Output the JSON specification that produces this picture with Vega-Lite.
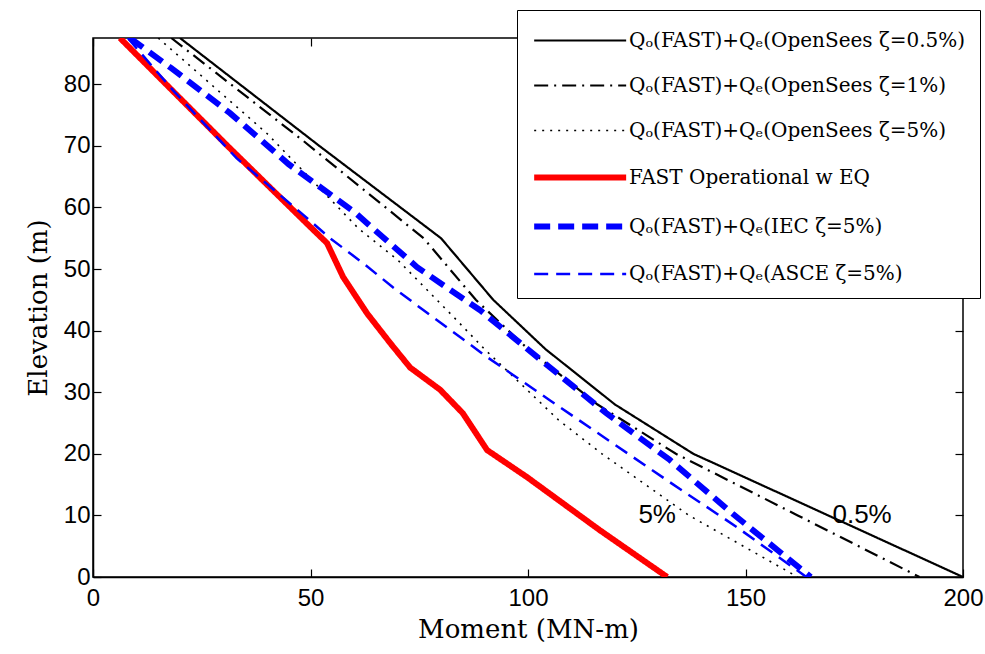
{
  "$schema": "https://vega.github.io/schema/vega-lite/v6.json",
  "width": 870,
  "height": 539,
  "autosize": "none",
  "padding": {"left": 93, "top": 38, "right": 22, "bottom": 77},
  "background": "white",
  "config": {
    "view": {"stroke": "black", "strokeWidth": 1.5},
    "font": "Liberation Serif",
    "axis": {
      "labelFont": "Liberation Sans", "titleFont": "DejaVu Serif",
      "labelFontSize": 24, "titleFontSize": 26, "titleFontWeight": "normal",
      "labelColor": "black", "titleColor": "black", "labelFlush": false,
      "domainColor": "black", "tickColor": "black", "grid": false,
      "tickSize": -8, "tickWidth": 1.2, "domainWidth": 1.5
    }
  },
  "resolve": {"axis": {"x": "independent", "y": "independent"}},
  "layer": [
    {
      "data": {"values": [
        {"series": "s05", "x": 20, "y": 87.5}, {"series": "s05", "x": 52, "y": 70}, {"series": "s05", "x": 80, "y": 55}, {"series": "s05", "x": 92, "y": 45}, {"series": "s05", "x": 104, "y": 37}, {"series": "s05", "x": 120, "y": 28}, {"series": "s05", "x": 138, "y": 20}, {"series": "s05", "x": 169, "y": 10}, {"series": "s05", "x": 200, "y": 0},
        {"series": "s1", "x": 18, "y": 87.5}, {"series": "s1", "x": 48, "y": 71}, {"series": "s1", "x": 76, "y": 55}, {"series": "s1", "x": 88, "y": 45}, {"series": "s1", "x": 100, "y": 37}, {"series": "s1", "x": 116, "y": 28}, {"series": "s1", "x": 134, "y": 20}, {"series": "s1", "x": 162, "y": 10}, {"series": "s1", "x": 190, "y": 0},
        {"series": "s5", "x": 15, "y": 87.5}, {"series": "s5", "x": 40, "y": 72}, {"series": "s5", "x": 61, "y": 56.6}, {"series": "s5", "x": 70, "y": 51.5}, {"series": "s5", "x": 82.5, "y": 42.5}, {"series": "s5", "x": 90, "y": 37}, {"series": "s5", "x": 107, "y": 25.5}, {"series": "s5", "x": 117, "y": 20}, {"series": "s5", "x": 137, "y": 10}, {"series": "s5", "x": 162, "y": 0},
        {"series": "fast", "x": 6.2, "y": 87.5}, {"series": "fast", "x": 30.9, "y": 70}, {"series": "fast", "x": 50, "y": 56.8}, {"series": "fast", "x": 53.8, "y": 54.2}, {"series": "fast", "x": 57.5, "y": 48.7}, {"series": "fast", "x": 63, "y": 42.8}, {"series": "fast", "x": 68.3, "y": 38}, {"series": "fast", "x": 72.9, "y": 34}, {"series": "fast", "x": 79.8, "y": 30.4}, {"series": "fast", "x": 85, "y": 26.6}, {"series": "fast", "x": 90.6, "y": 20.6}, {"series": "fast", "x": 99.8, "y": 16.2}, {"series": "fast", "x": 116.5, "y": 7.6}, {"series": "fast", "x": 132, "y": 0},
        {"series": "iec", "x": 8.5, "y": 87.5}, {"series": "iec", "x": 18, "y": 82.6}, {"series": "iec", "x": 31.5, "y": 75.3}, {"series": "iec", "x": 45, "y": 67}, {"series": "iec", "x": 60, "y": 59.3}, {"series": "iec", "x": 74.5, "y": 50.3}, {"series": "iec", "x": 89, "y": 43.3}, {"series": "iec", "x": 103, "y": 35.2}, {"series": "iec", "x": 118, "y": 26.6}, {"series": "iec", "x": 132.6, "y": 19}, {"series": "iec", "x": 147, "y": 10.3}, {"series": "iec", "x": 165, "y": 0},
        {"series": "asce", "x": 8, "y": 87.5}, {"series": "asce", "x": 18.4, "y": 79}, {"series": "asce", "x": 33, "y": 68}, {"series": "asce", "x": 47, "y": 59.6}, {"series": "asce", "x": 54.5, "y": 55}, {"series": "asce", "x": 62, "y": 51}, {"series": "asce", "x": 69, "y": 47}, {"series": "asce", "x": 76, "y": 43.3}, {"series": "asce", "x": 90.6, "y": 35.7}, {"series": "asce", "x": 105, "y": 28.7}, {"series": "asce", "x": 119.5, "y": 21.7}, {"series": "asce", "x": 133, "y": 15.2}, {"series": "asce", "x": 148, "y": 8.1}, {"series": "asce", "x": 164, "y": 0}
      ]},
      "mark": {"type": "line", "strokeCap": "butt", "clip": true},
      "encoding": {
        "x": {"field": "x", "type": "quantitative", "scale": {"domain": [0, 200], "nice": false}, "axis": {"values": [0, 50, 100, 150, 200], "title": "Moment (MN-m)", "labelPadding": 17, "titlePadding": 6}},
        "y": {"field": "y", "type": "quantitative", "scale": {"domain": [0, 87.5], "nice": false}, "axis": {"values": [0, 10, 20, 30, 40, 50, 60, 70, 80], "title": "Elevation (m)", "labelPadding": 11, "titlePadding": 12}},
        "order": {"field": "y", "sort": "descending"},
        "color": {"field": "series", "type": "nominal",
          "scale": {"domain": ["s05", "s1", "s5", "fast", "iec", "asce"], "range": ["black", "black", "black", "#ff0000", "#0000ff", "#0000ff"]},
          "legend": {
            "orient": "none", "legendX": 424, "legendY": -28, "title": null,
            "strokeColor": "black", "fillColor": "white", "padding": 14,
            "symbolType": "M-1,0H5", "symbolSize": 940,
            "labelFont": "DejaVu Serif", "labelFontSize": 20, "labelColor": "black", "labelLimit": 500,
            "labelOffset": 61, "rowPadding": 18,
            "labelExpr": "{'s05': 'Qₒ(FAST)+Qₑ(OpenSees ζ=0.5%)', 's1': 'Qₒ(FAST)+Qₑ(OpenSees ζ=1%)', 's5': 'Qₒ(FAST)+Qₑ(OpenSees ζ=5%)', 'fast': 'FAST Operational w EQ', 'iec': 'Qₒ(FAST)+Qₑ(IEC ζ=5%)', 'asce': 'Qₒ(FAST)+Qₑ(ASCE ζ=5%)'}[datum.value]"
          }
        },
        "strokeDash": {"field": "series", "type": "nominal",
          "scale": {"domain": ["s05", "s1", "s5", "fast", "iec", "asce"], "range": [[1, 0], [14, 6, 2, 6], [2, 6], [1, 0], [16, 8], [14, 8]]}
        },
        "strokeWidth": {"field": "series", "type": "nominal",
          "scale": {"type": "ordinal", "domain": ["s05", "s1", "s5", "fast", "iec", "asce"], "range": [2.2, 2.2, 1.6, 6, 6, 2.5]}
        }
      }
    },
    {
      "data": {"values": [
        {"label": "5%", "x": 129.7, "y": 10},
        {"label": "0.5%", "x": 176.8, "y": 10}
      ]},
      "mark": {"type": "text", "font": "Liberation Sans", "fontSize": 26, "color": "black"},
      "encoding": {
        "x": {"field": "x", "type": "quantitative", "axis": null},
        "y": {"field": "y", "type": "quantitative", "axis": null},
        "text": {"field": "label"}
      }
    },
    {
      "data": {"values": [
        {"label": "5%", "x": 129.7, "y": 10},
        {"label": "0.5%", "x": 176.8, "y": 10}
      ]},
      "mark": {"type": "point", "opacity": 0},
      "encoding": {
        "x": {"field": "x", "type": "quantitative", "axis": {"orient": "top", "values": [0, 50, 100, 150, 200], "labels": false, "title": null, "domain": false}},
        "y": {"field": "y", "type": "quantitative", "axis": {"orient": "right", "values": [0, 10, 20, 30, 40, 50, 60, 70, 80], "labels": false, "title": null, "domain": false}}
      }
    }
  ]
}
